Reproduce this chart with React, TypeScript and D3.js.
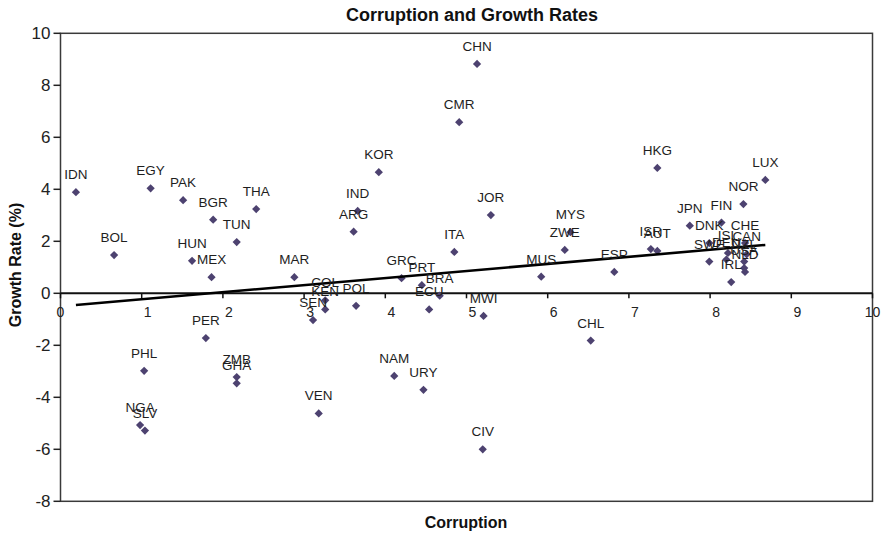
import React from "react";
import * as d3 from "d3";

const countries = [
  "IDN", "BOL", "EGY", "PAK", "HUN", "BGR", "MEX", "TUN", "THA", "MAR",
  "PHL", "NGA", "SLV", "PER", "ZMB", "GHA", "VEN", "SEN", "KEN", "COL",
  "POL", "ARG", "IND", "KOR", "NAM", "URY", "GRC", "PRT", "ECU", "BRA",
  "ITA", "CMR", "CHN", "CIV", "MWI", "JOR", "MUS", "ZWE", "MYS", "CHL",
  "ESP", "ISR", "AUT", "HKG", "JPN", "DNK", "SWE", "FIN", "ISL", "DEU",
  "IRL", "NOR", "CHE", "CAN", "NZL", "USA", "NLD", "LUX",
];
const corruption = [
  0.19, 0.66, 1.11, 1.51, 1.62, 1.88, 1.86, 2.17, 2.41, 2.88,
  1.03, 0.98, 1.04, 1.79, 2.17, 2.17, 3.18, 3.11, 3.26, 3.26,
  3.64, 3.61, 3.66, 3.92, 4.11, 4.47, 4.2, 4.45, 4.54, 4.67,
  4.85, 4.91, 5.13, 5.2, 5.21, 5.3, 5.92, 6.21, 6.28, 6.53,
  6.82, 7.27, 7.35, 7.35, 7.75, 7.99, 7.99, 8.14, 8.22, 8.2,
  8.26, 8.41, 8.43, 8.45, 8.42, 8.42, 8.43, 8.68,
];
const growth = [
  3.89, 1.47, 4.04, 3.58, 1.25, 2.83, 0.62, 1.97, 3.24, 0.62,
  -2.98, -5.07, -5.28, -1.72, -3.22, -3.46, -4.62, -1.03, -0.62, -0.27,
  -0.48, 2.37, 3.17, 4.66, -3.18, -3.71, 0.58, 0.31, -0.62, -0.09,
  1.59, 6.58, 8.82, -6.0, -0.87, 3.01, 0.64, 1.67, 2.35, -1.82,
  0.82, 1.7, 1.63, 4.82, 2.6, 1.93, 1.22, 2.72, 1.55, 1.3,
  0.43, 3.43, 1.93, 1.5, 1.22, 0.97, 0.82, 4.36,
];
const xTicks = [0, 1, 2, 3, 4, 5, 6, 7, 8, 9, 10];
const yTicks = [-8, -6, -4, -2, 0, 2, 4, 6, 8, 10];
const trendX = [0.19, 8.68];
const trendY = [-0.45, 1.86];

const FONT = "'Liberation Sans', Arial, Helvetica, sans-serif";

export default function App() {
  const W = 881;
  const H = 538;
  const x = d3.scaleLinear().domain([0, 10]).range([60.5, 872.5]);
  const y = d3.scaleLinear().domain([-8, 10]).range([501.3, 33.3]);
  const points = countries.map((c, i) => ({ c, cx: corruption[i], gy: growth[i] }));
  const diamond = d3.symbol(d3.symbolSquare, 34)() as string;
  const trend = d3
    .line<number>()
    .x((d) => x(d))
    .y((_, i) => y(trendY[i]))(trendX) as string;

  return (
    <svg
      width={W}
      height={H}
      style={{ position: "fixed", left: 0, top: 0, background: "#fff" }}
      fontFamily={FONT}
    >
      <rect x={0} y={0} width={W} height={H} fill="#fff" />
      {/* frame */}
      <rect
        x={x(0)}
        y={y(10)}
        width={x(10) - x(0)}
        height={y(-8) - y(10)}
        fill="none"
        stroke="#3a3a3a"
        strokeWidth={1.5}
      />
      {/* y ticks */}
      {yTicks.map((t) => (
        <g key={"y" + t}>
          <line x1={x(0) - 7} x2={x(0)} y1={y(t)} y2={y(t)} stroke="#222" strokeWidth={1.5} />
          <text
            x={x(0) - 10}
            y={y(t)}
            dy="0.35em"
            textAnchor="end"
            fontSize={17}
            fill="#222"
          >
            {t}
          </text>
        </g>
      ))}
      {/* x axis at zero */}
      <line x1={x(0)} x2={x(10)} y1={y(0)} y2={y(0)} stroke="#111" strokeWidth={2} />
      {xTicks.map((t) => (
        <g key={"x" + t}>
          <line x1={x(t)} x2={x(t)} y1={y(0)} y2={y(0) + 5} stroke="#111" strokeWidth={1.5} />
          <text
            x={x(t) + (t === 0 || t === 10 ? 0 : 6)}
            y={y(0) + 19}
            dy="0.35em"
            textAnchor="middle"
            fontSize={14}
            fill="#222"
          >
            {t}
          </text>
        </g>
      ))}
      {/* points */}
      {points.map((p) => (
        <path
          key={"p" + p.c}
          d={diamond}
          transform={`translate(${x(p.cx)},${y(p.gy)}) rotate(45)`}
          fill="#4d4270"
        />
      ))}
      {/* trend line */}
      <path d={trend} fill="none" stroke="#000" strokeWidth={2.6} />
      {/* labels */}
      {points.map((p) => (
        <text
          key={"l" + p.c}
          x={x(p.cx)}
          y={y(p.gy) - 13}
          textAnchor="middle"
          fontSize={13.5}
          fill="#1e1e1e"
        >
          {p.c}
        </text>
      ))}
      {/* titles */}
      <text x={472} y={21} textAnchor="middle" fontSize={18} fontWeight="bold" fill="#111">
        Corruption and Growth Rates
      </text>
      <text x={466} y={528} textAnchor="middle" fontSize={16} fontWeight="bold" fill="#111">
        Corruption
      </text>
      <text
        transform="translate(21,265) rotate(-90)"
        textAnchor="middle"
        fontSize={16}
        fontWeight="bold"
        fill="#111"
      >
        Growth Rate (%)
      </text>
    </svg>
  );
}
